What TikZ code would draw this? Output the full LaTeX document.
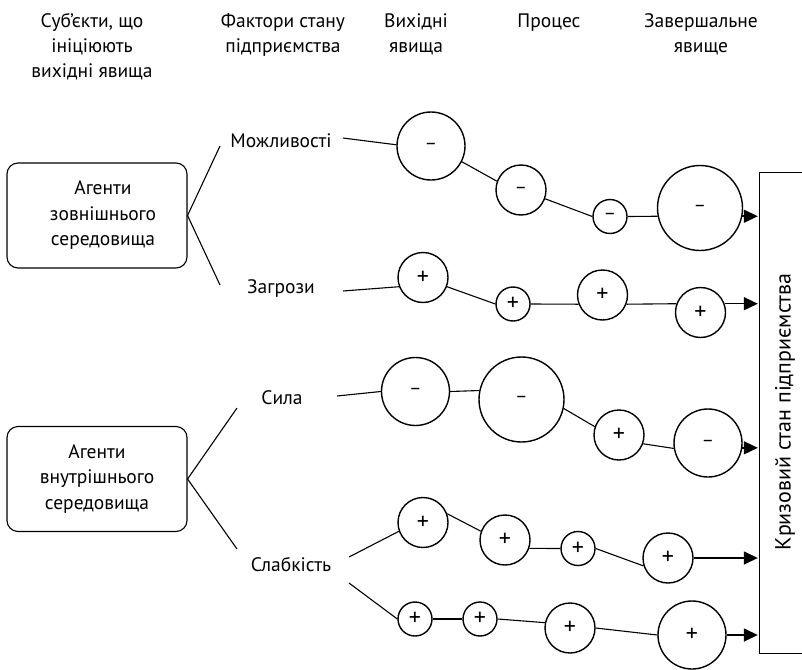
\documentclass[tikz,border=0pt]{standalone}
\usepackage{fontspec}
\setmainfont{PT Sans}
\usetikzlibrary{arrows.meta}
\begin{document}
\begin{tikzpicture}[x=1pt,y=-1pt,
  txt/.style={font=\fontsize{19.5}{25}\selectfont,inner sep=0pt},
  hdr/.style={txt,align=center,anchor=north},
  lab/.style={txt},
  bub/.style={circle,draw,line width=1.4pt,fill=white,inner sep=0pt,font=\fontsize{24}{24}\selectfont},
  neg/.style={font=\fontsize{19}{19}\selectfont},
  sml/.style={bub,minimum size=34pt},
  med/.style={bub,minimum size=50pt},
  lrg/.style={bub,minimum size=68pt},
  xlg/.style={bub,minimum size=85pt},
  conn/.style={line width=1.1pt},
  arr/.style={line width=1.5pt,-{Triangle[length=14pt,width=13pt]},shorten >=2pt},
  agent/.style={draw,rounded corners=11pt,line width=1.1pt,minimum width=180pt,minimum height=105pt,align=center,font=\fontsize{19.5}{25.5}\selectfont},
]
\useasboundingbox (0,0) rectangle (802,669);

% headers
\node[hdr] (h1) at (92,9.5) {\strut Суб’єкти, що\\ініціюють\\вихідні явища};
\node[hdr] (h2) at (283,9.5) {\strut Фактори стану\\підприємства};
\node[hdr] (h3) at (416,9.5) {\strut Вихідні\\явища};
\node[hdr] (h4) at (549,9.5) {\strut Процес};
\node[hdr] (h5) at (701,9.5) {\strut Завершальне\\явище};

% agents
\node[agent] (a1) at (97,215.5) {\hspace*{12pt}Агенти\\\hspace*{12pt}зовнішнього\\\hspace*{12pt}середовища};
\node[agent] (a2) at (97,479) {Агенти\\внутрішнього\\середовища};

% factor labels
\node[lab] (l1) at (281,141) {Можливості};
\node[lab] (l2) at (281,289) {Загрози};
\node[lab] (l3) at (282,398) {Сила};
\node[lab] (l4) at (291,565) {Слабкість};

% crisis box
\node[minimum width=42pt,minimum height=480pt,inner sep=0pt] (box) at (781,413) {};
\draw[line width=1.1pt] (box.north east) -- (box.north west) -- (box.south west) -- (box.south east);
\node[txt,font=\fontsize{22}{25}\selectfont,rotate=90] (crisis) at (785,412) {Кризовий стан підприємства};

% branch lines from agents
\coordinate (q1) at (220,146);
\coordinate (q2) at (220,285);
\coordinate (q3) at (237,408);
\coordinate (q4) at (237,549);
\draw[conn] (q1) -- (a1.east) -- (q2);
\draw[conn] (q3) -- (a2.east) -- (q4);

% row 1
\node[lrg,neg] (c1) at (431,146) {–};
\node[med,neg] (c2) at (521,190) {–};
\node[sml,neg] (c3) at (610,216.5) {–};
\node[xlg,neg] (c4) at (700,208) {–};
\coordinate (p1) at (343,138);
\draw[conn] (p1) -- (c1.178);
\draw[conn] (c1.-27) -- (c2.160);
\draw[conn] (c2.-20) -- (c3.west);
\draw[conn] (c3.east) -- (c4.191);
\draw[arr] (c4.-11) -- (c4.-11 -| box.west);

% row 2
\node[med] (d1) at (423,277.5) {+};
\node[sml] (d2) at (513,304) {+};
\node[med] (d3) at (602.5,295) {+};
\node[med] (d4) at (700.5,312.5) {+};
\coordinate (p2) at (343,291);
\draw[conn] (p2) -- (d1.201);
\draw[conn] (d1.-21) -- (d2.west);
\draw[conn] (d2.east) -- (d3.201);
\draw[conn] (d3.-21) -- (d4.160);
\draw[arr] (d4.20) -- (d4.20 -| box.west);

% row 3
\node[lrg,neg] (e1) at (415.5,391.5) {–};
\node[xlg,neg] (e2) at (521.5,399.5) {–};
\node[med] (e3) at (619,435) {+};
\node[lrg,neg] (e4) at (708,443) {–};
\coordinate (p3) at (337,396);
\draw[conn] (p3) -- (e1.west);
\draw[conn] (e1.east) -- (e2.168);
\draw[conn] (e2.-12) -- (e3.161);
\draw[conn] (e3.-20) -- (e4.189);
\draw[arr] (e4.-8) -- (e4.-8 -| box.west);

% row 4
\node[med] (f1) at (423,522.5) {+};
\node[med] (f2) at (505,540) {+};
\node[sml] (f3) at (578,548.5) {+};
\node[med] (f4) at (668,558) {+};
\coordinate (p4) at (349,557);
\draw[conn] (p4) -- (f1.200);
\draw[conn] (f1.20) -- (f2.160);
\draw[conn] (f2.-19) -- (f3.west);
\draw[conn] (f3.east) -- (f4.198);
\draw[arr] (f4.east) -- (f4.east -| box.west);

% row 5
\node[sml] (g1) at (415,619) {+};
\node[sml] (g2) at (480,619) {+};
\node[med] (g3) at (570,628) {+};
\node[lrg] (g4) at (692,635) {+};
\coordinate (p5) at (349,583);
\draw[conn] (p5) -- (g1.west);
\draw[conn] (g1.east) -- (g2.west);
\draw[conn] (g2.east) -- (g3.168);
\draw[conn] (g3.east) -- (g4.west);
\draw[arr] (g4.east) -- (g4.east -| box.west);
\end{tikzpicture}
\end{document}
